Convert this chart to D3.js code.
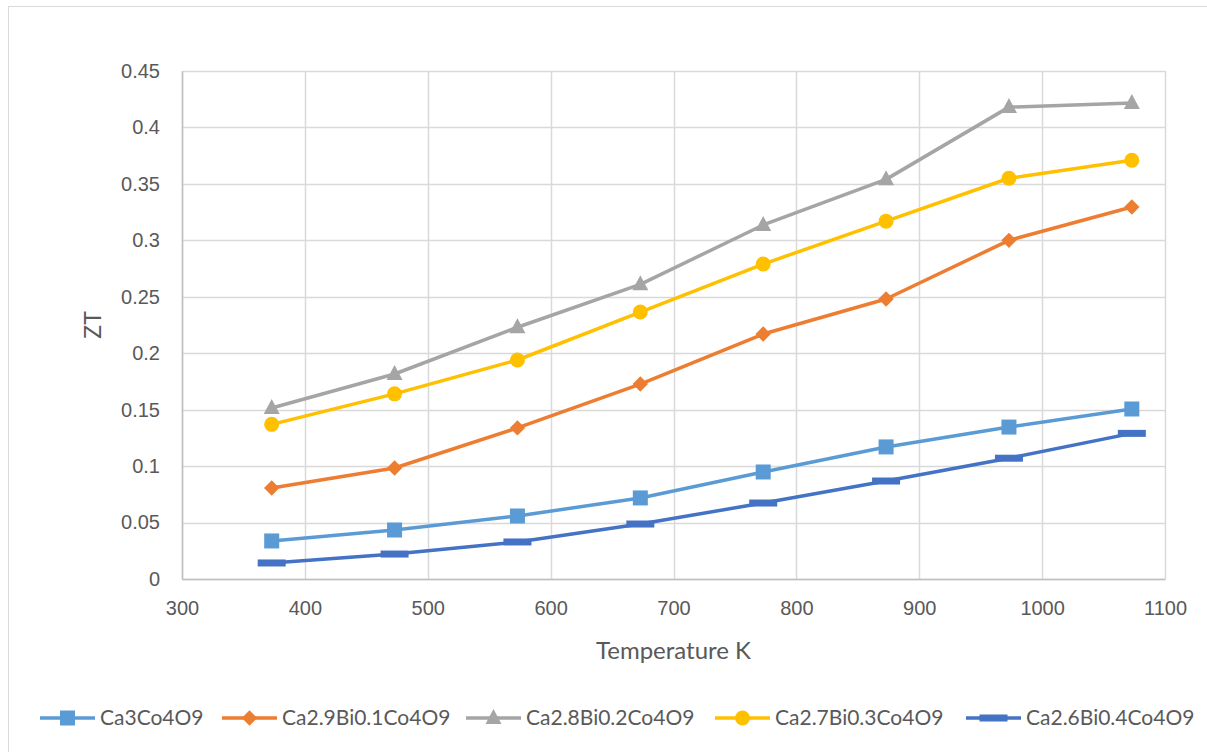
<!DOCTYPE html>
<html>
<head>
<meta charset="utf-8">
<script src="https://cdn.jsdelivr.net/npm/d3@7"></script>
<style>
  body { margin: 0; background: #fff; }
  svg { font-family: Lato, "Liberation Sans", sans-serif; }
</style>
</head>
<body>
<svg id="chart" width="1207" height="752"></svg>
<script>
// temperatures (K)
const temps = [373, 473, 573, 673, 773, 873, 973, 1073];

// ZT values per composition
const ca3 = [0.0337, 0.0434, 0.0558, 0.0718, 0.0948, 0.117, 0.1346, 0.1506];
const bi01 = [0.0806, 0.0983, 0.1338, 0.1727, 0.217, 0.248, 0.300, 0.3295];
const bi02 = [0.1515, 0.1816, 0.223, 0.261, 0.3136, 0.354, 0.418, 0.4216];
const bi03 = [0.137, 0.164, 0.194, 0.2365, 0.279, 0.317, 0.355, 0.371];
const bi04 = [0.0142, 0.0221, 0.0328, 0.0487, 0.0673, 0.0868, 0.107, 0.129];

const seriesNames = ["Ca3Co4O9", "Ca2.9Bi0.1Co4O9", "Ca2.8Bi0.2Co4O9", "Ca2.7Bi0.3Co4O9", "Ca2.6Bi0.4Co4O9"];

const xTicks = [300, 400, 500, 600, 700, 800, 900, 1000, 1100];
const yTicks = [0, 0.05, 0.1, 0.15, 0.2, 0.25, 0.3, 0.35, 0.4, 0.45];

const series = [
  { name: seriesNames[0], values: ca3, color: "#5B9BD5", marker: "square" },
  { name: seriesNames[1], values: bi01, color: "#ED7D31", marker: "diamond" },
  { name: seriesNames[2], values: bi02, color: "#A5A5A5", marker: "triangle" },
  { name: seriesNames[3], values: bi03, color: "#FFC000", marker: "circle" },
  { name: seriesNames[4], values: bi04, color: "#4472C4", marker: "dash" }
];

const svg = d3.select("#chart");

// outer chart frame
svg.append("rect")
  .attr("x", 8.5).attr("y", 6.5)
  .attr("width", 1240).attr("height", 780)
  .attr("fill", "none").attr("stroke", "#d9d9d9");

const plot = { left: 182, right: 1165, top: 71, bottom: 579 };

const x = d3.scaleLinear().domain([300, 1100]).range([plot.left, plot.right]);
const y = d3.scaleLinear().domain([0, 0.45]).range([plot.bottom, plot.top]);

// gridlines
svg.append("g")
  .selectAll("line.h")
  .data(yTicks)
  .enter().append("line")
  .attr("x1", plot.left).attr("x2", plot.right)
  .attr("y1", d => Math.round(y(d)) + 0.5).attr("y2", d => Math.round(y(d)) + 0.5)
  .attr("stroke", "#d9d9d9").attr("stroke-width", 1.5);

svg.append("g")
  .selectAll("line.v")
  .data(xTicks)
  .enter().append("line")
  .attr("x1", d => Math.round(x(d)) + 0.5).attr("x2", d => Math.round(x(d)) + 0.5)
  .attr("y1", plot.top).attr("y2", plot.bottom)
  .attr("stroke", "#d9d9d9").attr("stroke-width", 1.5);

// axes
const xAxis = svg.append("g")
  .attr("transform", "translate(0," + plot.bottom + ")")
  .call(d3.axisBottom(x).tickValues(xTicks).tickSize(0).tickPadding(22)
    .tickFormat(d3.format("d")));
const yAxis = svg.append("g")
  .attr("transform", "translate(" + plot.left + ",0)")
  .call(d3.axisLeft(y).tickValues(yTicks).tickSize(0).tickPadding(22)
    .tickFormat(d => String(+d.toFixed(2))));

[xAxis, yAxis].forEach(a => {
  a.select(".domain").attr("stroke", "#bfbfbf").attr("stroke-width", 1.5);
  a.selectAll("text").attr("fill", "#595959").style("font-size", "20px");
});

// axis titles
svg.append("text")
  .attr("x", (plot.left + plot.right) / 2).attr("y", 659)
  .attr("text-anchor", "middle")
  .attr("fill", "#595959").style("font-size", "24px")
  .text("Temperature K");

svg.append("text")
  .attr("transform", "translate(101," + ((plot.top + plot.bottom) / 2) + ") rotate(-90)")
  .attr("text-anchor", "middle")
  .attr("fill", "#595959").style("font-size", "23px")
  .text("ZT");

// marker drawing
function drawMarker(g, type, color, cx, cy, scale) {
  const s = scale || 1;
  if (type === "square") {
    g.append("rect").attr("x", cx - 7.5 * s).attr("y", cy - 7.5 * s)
      .attr("width", 15 * s).attr("height", 15 * s).attr("fill", color);
  } else if (type === "diamond") {
    g.append("path").attr("transform", "translate(" + cx + "," + cy + ")")
      .attr("d", d3.symbol(d3.symbolDiamond2, 150 * s * s)())
      .attr("fill", color);
  } else if (type === "triangle") {
    g.append("path")
      .attr("d", "M" + cx + "," + (cy - 9 * s) + "L" + (cx + 8 * s) + "," + (cy + 6 * s) + "L" + (cx - 8 * s) + "," + (cy + 6 * s) + "Z")
      .attr("fill", color);
  } else if (type === "circle") {
    g.append("circle").attr("cx", cx).attr("cy", cy).attr("r", 7.5 * s).attr("fill", color);
  } else if (type === "dash") {
    g.append("rect").attr("x", cx - 14 * s).attr("y", cy - 3.5 * s)
      .attr("width", 28 * s).attr("height", 7 * s).attr("fill", color);
  }
}

const line = d3.line()
  .x((d, i) => x(temps[i]))
  .y(d => y(d));

series.forEach(s => {
  const g = svg.append("g");
  g.append("path")
    .attr("d", line(s.values))
    .attr("fill", "none")
    .attr("stroke", s.color)
    .attr("stroke-width", 3.5)
    .attr("stroke-linejoin", "round");
  s.values.forEach((v, i) => drawMarker(g, s.marker, s.color, x(temps[i]), y(v)));
});

// legend
const legendX = [40, 222, 466, 715, 966];
const legendY = 718;
series.forEach((s, i) => {
  const g = svg.append("g");
  g.append("line")
    .attr("x1", legendX[i]).attr("x2", legendX[i] + 55)
    .attr("y1", legendY).attr("y2", legendY)
    .attr("stroke", s.color).attr("stroke-width", 3.5);
  drawMarker(g, s.marker, s.color, legendX[i] + 27.5, legendY, 1);
  g.append("text")
    .attr("x", legendX[i] + 60).attr("y", legendY + 7)
    .attr("fill", "#595959").style("font-size", "21px")
    .text(s.name);
});
</script>
</body>
</html>
